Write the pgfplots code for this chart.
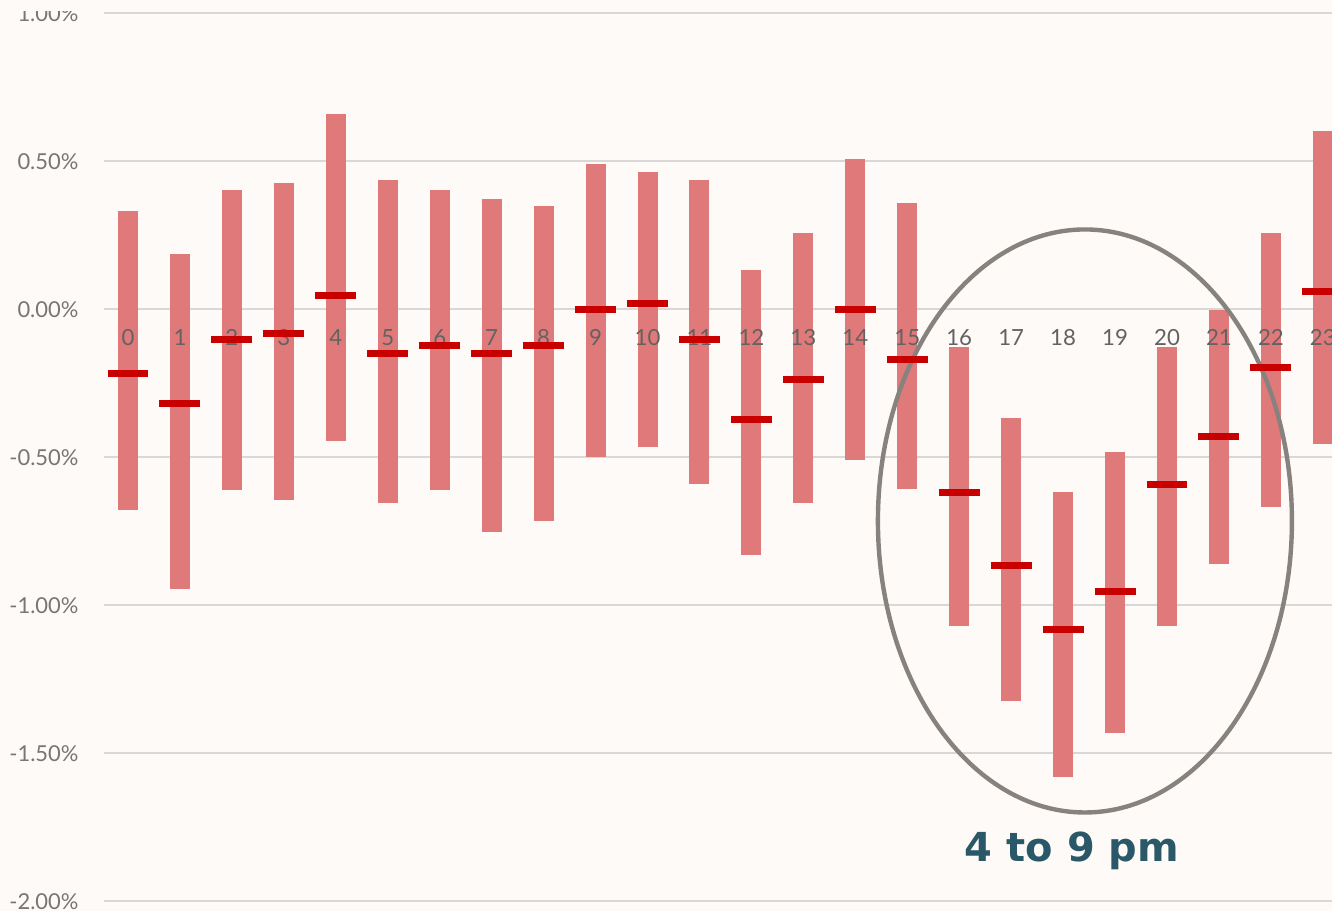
\documentclass[border=0pt]{standalone}
\usepackage{pgfplots}
\pgfplotsset{compat=1.18}
\usepackage{pgfplotstable}
\usepackage{fontspec}
\setmainfont{Lato}
\newfontfamily\notefont{DejaVu Sans}
\usetikzlibrary{backgrounds}

\definecolor{bgc}{RGB}{253,250,247}
\definecolor{barred}{RGB}{224,122,122}
\definecolor{meanred}{RGB}{200,0,0}
\definecolor{gridc}{RGB}{218,216,214}
\definecolor{labc}{RGB}{118,118,118}
\definecolor{hourc}{RGB}{98,98,98}
\definecolor{ringc}{RGB}{135,130,125}
\definecolor{notec}{RGB}{42,88,104}

% hour, low, high, mean (in %)
\pgfplotstableread{
h lo hi mean
0 -0.679 0.334 -0.216
1 -0.943 0.186 -0.318
2 -0.611 0.405 -0.101
3 -0.645 0.426 -0.081
4 -0.446 0.662 0.047
5 -0.655 0.436 -0.149
6 -0.611 0.405 -0.122
7 -0.753 0.372 -0.149
8 -0.713 0.351 -0.122
9 -0.497 0.493 0.000
10 -0.466 0.466 0.020
11 -0.591 0.439 -0.101
12 -0.828 0.132 -0.372
13 -0.655 0.260 -0.236
14 -0.507 0.507 0.000
15 -0.605 0.361 -0.169
16 -1.071 -0.128 -0.618
17 -1.324 -0.365 -0.865
18 -1.581 -0.615 -1.081
19 -1.432 -0.480 -0.953
20 -1.071 -0.128 -0.591
21 -0.861 -0.003 -0.429
22 -0.666 0.260 -0.196
23 -0.453 0.602 0.061
}\hours

\begin{document}
\begin{tikzpicture}[background rectangle/.style={fill=bgc,draw=none},
  show background rectangle, inner frame sep=0pt]
\begin{axis}[
    scale only axis,
    width=15.35cm, height=11.1cm,
    xmin=-0.462, xmax=23.176,
    ymin=-2, ymax=1,
    xtick=\empty,
    ytick={-2,-1.5,-1,-0.5,0,0.5,1},
    ymajorgrids,
    grid style={gridc, line width=0.7pt},
    axis line style={draw=none},
    major tick length=0pt,
    /pgf/number format/assume math mode=true,
    yticklabel={\pgfmathprintnumber[fixed,fixed zerofill,precision=2]{\tick}\%},
    yticklabel style={font=\fontsize{7.8}{9}\selectfont, text=labc, anchor=east, inner sep=0pt, xshift=-0.3125cm},
]
% floating bars, low to high
\addplot[draw=none, mark=none, forget plot,
    error bars/.cd, y dir=both, y explicit, error mark=none,
    error bar style={draw=barred, line width=0.25cm}]
  table[x=h, y expr={(\thisrow{hi}+\thisrow{lo})/2},
        y error expr={(\thisrow{hi}-\thisrow{lo})/2}] {\hours};
% hour labels
\addplot[draw=none, mark=none, point meta=x,
    nodes near coords={\pgfmathprintnumber{\pgfplotspointmeta}},
    nodes near coords align=center,
    every node near coord/.append style={font=\fontsize{7.9}{9}\selectfont, text=hourc, inner sep=0pt}]
  table[x=h, y expr=-0.0946] {\hours};
% means
\addplot[only marks, mark=-, mark size=0.256cm,
    mark options={draw=meanred, line width=0.09cm}]
  table[x=h, y=mean] {\hours};
\draw[ringc, line width=0.055cm] (axis cs:18.42,-0.7145) ellipse [x radius=2.5875cm, y radius=3.644cm];
\node[font=\notefont\bfseries\fontsize{14.2}{16}\selectfont, text=notec] at (axis cs:18.17,-1.83) {4 to 9 pm};
\coordinate (bl) at (rel axis cs:0,0);
\coordinate (tr) at (rel axis cs:1,1);
\end{axis}
% the top of the first label is cut off in the original
\fill[bgc] ([xshift=-1.3cm,yshift=0.16875cm]bl|-tr) rectangle ([yshift=0.025cm]bl|-tr);
\pgfresetboundingbox
\path[use as bounding box] ([xshift=-1.3cm,yshift=-0.11875cm]bl) rectangle ([yshift=0.16875cm]tr);
\end{tikzpicture}
\end{document}
